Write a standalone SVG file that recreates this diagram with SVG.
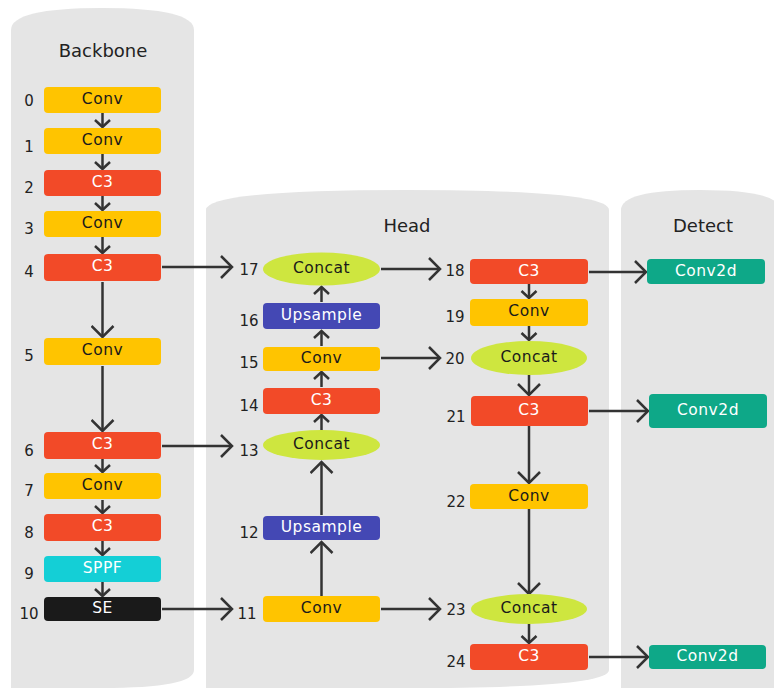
<svg xmlns="http://www.w3.org/2000/svg" width="774" height="688" viewBox="0 0 774 688">
  <style>
    .panel { fill: #e5e5e5; }
    .title { font-family: "DejaVu Sans", "Liberation Sans", sans-serif; font-size: 18px; fill: #222; text-anchor: middle; }
    .num { font-family: "DejaVu Sans", "Liberation Sans", sans-serif; font-size: 15px; fill: #222; text-anchor: middle; }
    .lbl { font-family: "DejaVu Sans", "Liberation Sans", sans-serif; font-size: 15.5px; letter-spacing: 0.5px; text-anchor: middle; dominant-baseline: central; }
    .dark { fill: #1a1a1a; }
    .light { fill: #ffffff; }
    .conv { fill: #ffc400; }
    .c3 { fill: #f24a28; }
    .sppf { fill: #14cfd6; }
    .se { fill: #1a1a1a; }
    .up { fill: #4448b4; }
    .cat { fill: #cee63f; }
    .c2d { fill: #0ea888; }
    .edge { stroke: #333; stroke-width: 2.5; fill: none; }
    .big { marker-end: url(#chev); }
    .small { marker-end: url(#chev-sm); }
  </style>
  <defs>
    <marker id="chev" markerUnits="userSpaceOnUse" viewBox="-14 -12 16 24" markerWidth="16" markerHeight="24" refX="0" refY="0" orient="auto">
      <path d="M-11,-11 L0,0 L-11,11" fill="none" stroke="#333" stroke-width="2.5"/>
    </marker>
    <marker id="chev-sm" markerUnits="userSpaceOnUse" viewBox="-10 -9 12 18" markerWidth="12" markerHeight="18" refX="0" refY="0" orient="auto">
      <path d="M-7,-7.5 L0,0 L-7,7.5" fill="none" stroke="#333" stroke-width="2.5"/>
    </marker>
  </defs>

  <!-- column panels -->
  <path class="panel" d="M11,688 V30 Q11,8 102,8 Q194,8 194,30 V670 Q194,688 102,688 Z"/>
  <path class="panel" d="M206,688 V210 Q206,190 407,190 Q609,190 609,210 V670 Q609,688 407,688 Z"/>
  <path class="panel" d="M621,688 V210 Q621,190 700,190 Q780,190 780,210 V688 Z"/>

  <text class="title" x="103" y="57">Backbone</text>
  <text class="title" x="407" y="232">Head</text>
  <text class="title" x="703" y="232">Detect</text>

  <!-- connectors -->
  <g id="connectors">
    <path class="edge small" d="M102.5,113 V127"/>
    <path class="edge small" d="M102.5,154 V169"/>
    <path class="edge small" d="M102.5,196 V210"/>
    <path class="edge small" d="M102.5,237 V253"/>
    <path class="edge big" d="M102.5,282 V337"/>
    <path class="edge big" d="M102.5,366 V431"/>
    <path class="edge small" d="M102.5,459 V472"/>
    <path class="edge small" d="M102.5,500 V513"/>
    <path class="edge small" d="M102.5,541 V555"/>
    <path class="edge small" d="M102.5,582 V596"/>

    <path class="edge big" d="M162,267 H232"/>
    <path class="edge big" d="M162,446 H232"/>
    <path class="edge big" d="M162,609 H232"/>

    <path class="edge big" d="M321.5,596 V542"/>
    <path class="edge big" d="M321.5,515 V462"/>
    <path class="edge small" d="M321.5,430 V415"/>
    <path class="edge small" d="M321.5,387 V372"/>
    <path class="edge small" d="M321.5,346 V331"/>
    <path class="edge small" d="M321.5,302 V287"/>

    <path class="edge big" d="M381,269 H440"/>
    <path class="edge big" d="M381,358 H440"/>
    <path class="edge big" d="M381,609 H440"/>

    <path class="edge small" d="M529,284 V298"/>
    <path class="edge small" d="M529,326 V340"/>
    <path class="edge big" d="M529,375 V395"/>
    <path class="edge big" d="M529,426 V483"/>
    <path class="edge big" d="M529,509 V594"/>
    <path class="edge small" d="M529,624 V643"/>

    <path class="edge big" d="M589,272 H646"/>
    <path class="edge big" d="M589,411 H648"/>
    <path class="edge big" d="M589,657 H648"/>
  </g>

  <!-- backbone -->
  <g id="n0"><rect class="conv" x="44" y="87" width="117" height="26" rx="4"/><text class="lbl dark" x="102.5" y="99">Conv</text><text class="num" x="29" y="106">0</text></g>
  <g id="n1"><rect class="conv" x="44" y="128" width="117" height="26" rx="4"/><text class="lbl dark" x="102.5" y="140">Conv</text><text class="num" x="29" y="152">1</text></g>
  <g id="n2"><rect class="c3" x="44" y="170" width="117" height="26" rx="4"/><text class="lbl light" x="102.5" y="182">C3</text><text class="num" x="29" y="193">2</text></g>
  <g id="n3"><rect class="conv" x="44" y="211" width="117" height="26" rx="4"/><text class="lbl dark" x="102.5" y="223">Conv</text><text class="num" x="29" y="234">3</text></g>
  <g id="n4"><rect class="c3" x="44" y="254" width="117" height="27" rx="4"/><text class="lbl light" x="102.5" y="266">C3</text><text class="num" x="29" y="277">4</text></g>
  <g id="n5"><rect class="conv" x="44" y="338" width="117" height="27" rx="4"/><text class="lbl dark" x="102.5" y="350">Conv</text><text class="num" x="29" y="361">5</text></g>
  <g id="n6"><rect class="c3" x="44" y="432" width="117" height="27" rx="4"/><text class="lbl light" x="102.5" y="444">C3</text><text class="num" x="29" y="456">6</text></g>
  <g id="n7"><rect class="conv" x="44" y="473" width="117" height="26" rx="4"/><text class="lbl dark" x="102.5" y="485">Conv</text><text class="num" x="29" y="496">7</text></g>
  <g id="n8"><rect class="c3" x="44" y="514" width="117" height="27" rx="4"/><text class="lbl light" x="102.5" y="526">C3</text><text class="num" x="29" y="538">8</text></g>
  <g id="n9"><rect class="sppf" x="44" y="556" width="117" height="26" rx="4"/><text class="lbl light" x="102.5" y="568">SPPF</text><text class="num" x="29" y="579">9</text></g>
  <g id="n10"><rect class="se" x="44" y="597" width="117" height="24" rx="4"/><text class="lbl light" x="102.5" y="608">SE</text><text class="num" x="29" y="619">10</text></g>

  <!-- head, first column -->
  <g id="n11"><rect class="conv" x="263" y="596" width="117" height="26" rx="4"/><text class="lbl dark" x="321.5" y="608">Conv</text><text class="num" x="247" y="619">11</text></g>
  <g id="n12"><rect class="up" x="263" y="516" width="117" height="24" rx="4"/><text class="lbl light" x="321.5" y="527">Upsample</text><text class="num" x="249" y="538">12</text></g>
  <g id="n13"><ellipse class="cat" cx="321.5" cy="445" rx="58.5" ry="15"/><text class="lbl dark" x="321.5" y="444">Concat</text><text class="num" x="249" y="456">13</text></g>
  <g id="n14"><rect class="c3" x="263" y="388" width="117" height="26" rx="4"/><text class="lbl light" x="321.5" y="400">C3</text><text class="num" x="249" y="411">14</text></g>
  <g id="n15"><rect class="conv" x="263" y="347" width="117" height="24" rx="4"/><text class="lbl dark" x="321.5" y="358">Conv</text><text class="num" x="249" y="368">15</text></g>
  <g id="n16"><rect class="up" x="263" y="303" width="117" height="26" rx="4"/><text class="lbl light" x="321.5" y="315">Upsample</text><text class="num" x="249" y="326">16</text></g>
  <g id="n17"><ellipse class="cat" cx="321.5" cy="269" rx="58.5" ry="16.5"/><text class="lbl dark" x="321.5" y="268">Concat</text><text class="num" x="249" y="275">17</text></g>

  <!-- head, second column -->
  <g id="n18"><rect class="c3" x="470" y="259" width="118" height="25" rx="4"/><text class="lbl light" x="529" y="271">C3</text><text class="num" x="455" y="276">18</text></g>
  <g id="n19"><rect class="conv" x="470" y="299" width="118" height="27" rx="4"/><text class="lbl dark" x="529" y="311">Conv</text><text class="num" x="455" y="322">19</text></g>
  <g id="n20"><ellipse class="cat" cx="529" cy="358" rx="58" ry="17"/><text class="lbl dark" x="529" y="357">Concat</text><text class="num" x="455" y="364">20</text></g>
  <g id="n21"><rect class="c3" x="471" y="396" width="117" height="30" rx="4"/><text class="lbl light" x="529" y="410">C3</text><text class="num" x="456" y="422">21</text></g>
  <g id="n22"><rect class="conv" x="470" y="484" width="118" height="25" rx="4"/><text class="lbl dark" x="529" y="496">Conv</text><text class="num" x="456" y="507">22</text></g>
  <g id="n23"><ellipse class="cat" cx="529" cy="609" rx="58" ry="15"/><text class="lbl dark" x="529" y="608">Concat</text><text class="num" x="456" y="615">23</text></g>
  <g id="n24"><rect class="c3" x="470" y="644" width="118" height="26" rx="4"/><text class="lbl light" x="529" y="656">C3</text><text class="num" x="456" y="667">24</text></g>

  <!-- detect -->
  <g id="d18"><rect class="c2d" x="647" y="259" width="118" height="25" rx="4"/><text class="lbl light" x="706" y="271">Conv2d</text></g>
  <g id="d21"><rect class="c2d" x="649" y="394" width="118" height="34" rx="4"/><text class="lbl light" x="708" y="410">Conv2d</text></g>
  <g id="d24"><rect class="c2d" x="649" y="645" width="117" height="24" rx="4"/><text class="lbl light" x="707.5" y="656">Conv2d</text></g>
</svg>
